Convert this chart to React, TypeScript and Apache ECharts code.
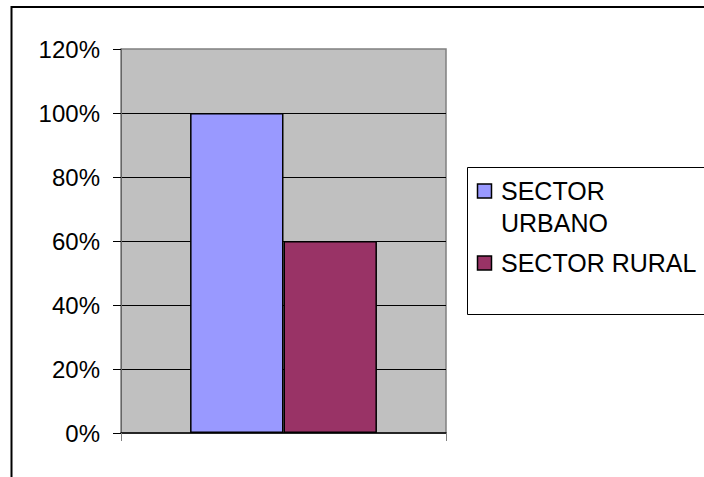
import React, { useEffect, useRef } from "react";
import * as echarts from "echarts";

const categories = [""];
const seriesNames = ["SECTOR URBANO", "SECTOR RURAL"];
const legendLabels = ["SECTOR\nURBANO", "SECTOR RURAL"];
const urbanValues = [1.0];
const ruralValues = [0.6];
const colors = ["#9999FF", "#993366"];

const FONT = "'Liberation Sans', Arial, sans-serif";

export default function App() {
  const ref = useRef<HTMLDivElement>(null);
  useEffect(() => {
    document.body.style.margin = "0";
    const chart = echarts.init(ref.current!, null, { renderer: "svg" });
    const legendGraphics: any[] = [
      {
        type: "rect",
        shape: { x: 467.5, y: 167.5, width: 300, height: 147 },
        style: { fill: "#fff", stroke: "#000", lineWidth: 1 },
      },
    ];
    const textY = [191, 263];
    legendLabels.forEach((lab, i) => {
      legendGraphics.push({
        type: "rect",
        shape: { x: 477.5, y: textY[i] - 7, width: 14, height: 14 },
        style: { fill: colors[i], stroke: "#000", lineWidth: 1.5 },
      });
      legendGraphics.push({
        type: "text",
        x: 501,
        y: i === 0 ? textY[i] - 16 : textY[i],
        style: {
          text: lab,
          fill: "#000",
          font: `25px ${FONT}`,
          lineHeight: 32,
          verticalAlign: i === 0 ? "top" : "middle",
          align: "left",
        },
      });
    });
    chart.setOption({
      animation: false,
      backgroundColor: "#fff",
      grid: {
        left: 121,
        right: 258,
        top: 49,
        bottom: 44,
        show: true,
        backgroundColor: "#C0C0C0",
        borderColor: "#808080",
        borderWidth: 1.5,
      },
      xAxis: {
        type: "category",
        data: categories,
        axisLine: { show: true, lineStyle: { color: "#000", width: 1.5 } },
        axisTick: { show: true, length: 8, lineStyle: { color: "#808080" } },
        axisLabel: { show: false },
      },
      yAxis: {
        type: "value",
        min: 0,
        max: 1.2,
        interval: 0.2,
        axisLine: { show: true, lineStyle: { color: "#666" } },
        axisTick: { show: true, length: 8, lineStyle: { color: "#000" } },
        axisLabel: {
          margin: 21,
          color: "#000",
          fontSize: 24,
          fontFamily: FONT,
          formatter: (v: number) => `${Math.round(v * 100)}%`,
        },
        splitLine: {
          show: true,
          showMaxLine: false,
          showMinLine: false,
          lineStyle: { color: "#000", width: 1 },
        },
      },
      series: [
        {
          name: seriesNames[0],
          type: "bar",
          data: urbanValues,
          barGap: "0%",
          barCategoryGap: "42.5%",
          itemStyle: { color: colors[0], borderColor: "#000", borderWidth: 1.5 },
        },
        {
          name: seriesNames[1],
          type: "bar",
          data: ruralValues,
          barGap: "0%",
          barCategoryGap: "42.5%",
          itemStyle: { color: colors[1], borderColor: "#000", borderWidth: 1.5 },
        },
      ],
      graphic: [
        ...legendGraphics,
        {
          type: "rect",
          shape: { x: 11.5, y: 7, width: 800, height: 600 },
          style: { fill: "none", stroke: "#000", lineWidth: 2 },
          silent: true,
        },
      ],
    });
    return () => chart.dispose();
  }, []);
  return (
    <div
      ref={ref}
      style={{ position: "fixed", left: 0, top: 0, width: 704, height: 477 }}
    />
  );
}
